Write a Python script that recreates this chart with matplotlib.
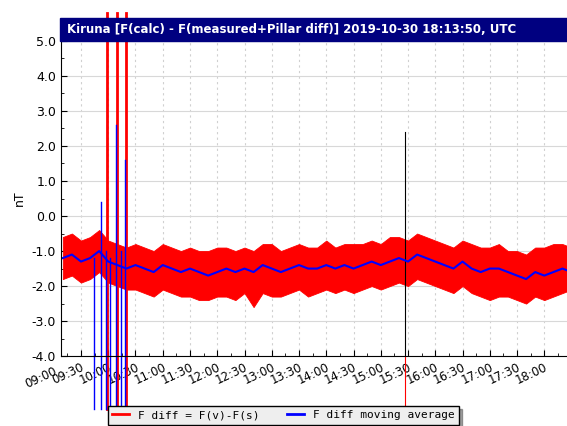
import matplotlib.pyplot as plt
import matplotlib.dates as mdates
from matplotlib.patches import Rectangle
from datetime import datetime, timedelta

# --- Data (every 10 min, from 09:10) ---
start = datetime(2019, 10, 30, 9, 10)
moving_avg = [-1.2, -1.1, -1.3, -1.2, -1.0, -1.3, -1.4, -1.5, -1.4, -1.5,
              -1.6, -1.4, -1.5, -1.6, -1.5, -1.6, -1.7, -1.6, -1.5, -1.6,
              -1.5, -1.6, -1.4, -1.5, -1.6, -1.5, -1.4, -1.5, -1.5, -1.4,
              -1.5, -1.4, -1.5, -1.4, -1.3, -1.4, -1.3, -1.2, -1.3, -1.1,
              -1.2, -1.3, -1.4, -1.5, -1.3, -1.5, -1.6, -1.5, -1.5, -1.6,
              -1.7, -1.8, -1.6, -1.7, -1.6, -1.5, -1.6]
band_low = [-1.8, -1.7, -1.9, -1.8, -1.6, -1.9, -2.0, -2.1, -2.1, -2.2,
            -2.3, -2.1, -2.2, -2.3, -2.3, -2.4, -2.4, -2.3, -2.3, -2.4,
            -2.2, -2.6, -2.2, -2.3, -2.3, -2.2, -2.1, -2.3, -2.2, -2.1,
            -2.2, -2.1, -2.2, -2.1, -2.0, -2.1, -2.0, -1.9, -2.0, -1.8,
            -1.9, -2.0, -2.1, -2.2, -2.0, -2.2, -2.3, -2.4, -2.3, -2.3,
            -2.4, -2.5, -2.3, -2.4, -2.3, -2.2, -2.1]
band_high = [-0.6, -0.5, -0.7, -0.6, -0.4, -0.7, -0.8, -0.9, -0.8, -0.9,
             -1.0, -0.8, -0.9, -1.0, -0.9, -1.0, -1.0, -0.9, -0.9, -1.0,
             -0.9, -1.0, -0.8, -0.8, -1.0, -0.9, -0.8, -0.9, -0.9, -0.7,
             -0.9, -0.8, -0.8, -0.8, -0.7, -0.8, -0.6, -0.6, -0.7, -0.5,
             -0.6, -0.7, -0.8, -0.9, -0.7, -0.8, -0.9, -0.9, -0.8, -1.0,
             -1.0, -1.1, -0.9, -0.9, -0.8, -0.8, -0.9]
times = [start + timedelta(minutes=10 * i) for i in range(len(moving_avg))]

# spikes: (time, low, high)
red_spikes = [("09:59", -5.5, 5.8), ("10:10", -5.5, 5.8), ("10:20", -5.5, 5.8)]
blue_spikes = [("09:44", -5.5, -1.2), ("09:52", -5.5, 0.4), ("09:58", -5.5, -1.0),
               ("10:02", -5.5, -1.2), ("10:08", -5.5, 2.6), ("10:14", -5.5, -1.0),
               ("10:18", -5.5, 1.6)]
black_spike = ("15:27", -4.0, 2.4)
red_spike_low = ("15:27", -5.5, -4.0)

def t(s):
    h, m = s.split(":")
    return datetime(2019, 10, 30, int(h), int(m))

fig = plt.figure(figsize=(5.67, 4.26), dpi=100)
ax = fig.add_axes([0.1076, 0.164, 0.8924, 0.740])

ax.fill_between(times, band_low, band_high, color="red", lw=0.6, edgecolor="red")
for tm, lo, hi in red_spikes:
    ax.plot([t(tm), t(tm)], [lo, hi], color="red", lw=2, clip_on=False)
for tm, lo, hi in blue_spikes:
    ax.plot([t(tm), t(tm)], [lo, hi], color="blue", lw=1, clip_on=False)
ax.plot([t(black_spike[0])] * 2, black_spike[1:], color="black", lw=0.8)
ax.plot([t(red_spike_low[0])] * 2, red_spike_low[1:], color="red", lw=0.8, clip_on=False)
ax.plot(times, moving_avg, color="blue", lw=1.5)

ax.set_xlim(datetime(2019, 10, 30, 9, 8), datetime(2019, 10, 30, 18, 25))
ax.set_ylim(-4, 5)
ax.set_yticks([-4, -3, -2, -1, 0, 1, 2, 3, 4, 5])
ax.set_yticklabels(["%.1f" % v for v in ax.get_yticks()], fontsize=9)
ax.yaxis.set_minor_locator(plt.MultipleLocator(0.5))
ax.xaxis.set_major_locator(mdates.MinuteLocator(byminute=[0, 30]))
ax.xaxis.set_minor_locator(mdates.MinuteLocator(byminute=[15, 45]))
ax.xaxis.set_major_formatter(mdates.DateFormatter("%H:%M"))
plt.setp(ax.get_xticklabels(), rotation=25, ha="right", rotation_mode="anchor", fontsize=8.5)
# the 09:00 label sits left of the axis start
ax.text(t("09:00"), -4.25, "09:00", rotation=25, ha="right", va="top",
        rotation_mode="anchor", fontsize=8.5, clip_on=False)
ax.tick_params(direction="in", length=4)
ax.tick_params(which="minor", direction="in", length=2)
ax.grid(axis="y", color="#d8d8d8", lw=0.8)
ax.grid(axis="x", color="#d0d0d0", lw=0.8, ls=(0, (2, 3)))
ax.set_axisbelow(True)
for s in ["top", "right"]:
    ax.spines[s].set_visible(False)
ax.set_ylabel("nT", fontsize=9)

# title box
fig.patches.append(Rectangle((0.106, 0.904), 0.894, 0.054, transform=fig.transFigure,
                             color="#000080", zorder=5))
fig.text(0.118, 0.931, "Kiruna [F(calc) - F(measured+Pillar diff)] 2019-10-30 18:13:50, UTC",
         color="white", fontsize=8.5, fontweight="bold", va="center", zorder=6)

leg = fig.legend([plt.Line2D([], [], color="red", lw=2), plt.Line2D([], [], color="blue", lw=2)],
                 ["F diff = F(v)-F(s)", "F diff moving average"],
                 loc="lower center", bbox_to_anchor=(0.5, -0.01), ncol=2, fancybox=False,
                 shadow=True, edgecolor="black", facecolor="#eeeeee", framealpha=1,
                 prop={"family": "DejaVu Sans Mono", "size": 8}, handlelength=1.5,
                 columnspacing=2.5)
leg.get_frame().set_linewidth(1)

plt.savefig("out.png")
